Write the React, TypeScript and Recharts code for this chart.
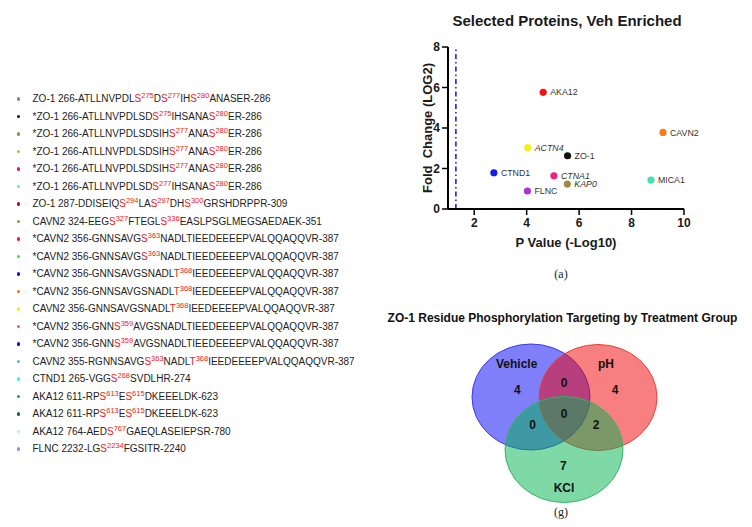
import React from 'react'
import { ScatterChart, Scatter, XAxis, YAxis, ReferenceLine, Cell } from 'recharts'

const SANS = '"Liberation Sans", Arial, sans-serif'
const SERIF = '"Liberation Serif", "Times New Roman", serif'

// peptide list; [X123] = red phospho residue with its position as superscript
const peptideLabels = [
  'ZO-1 266-ATLLNVPDL[S275]D[S277]IH[S280]ANASER-286',
  '*ZO-1 266-ATLLNVPDLSD[S275]IHSANA[S280]ER-286',
  '*ZO-1 266-ATLLNVPDLSDSIH[S277]ANA[S280]ER-286',
  '*ZO-1 266-ATLLNVPDLSDSIH[S277]ANA[S280]ER-286',
  '*ZO-1 266-ATLLNVPDLSDSIH[S277]ANA[S280]ER-286',
  '*ZO-1 266-ATLLNVPDLSD[S277]IHSANA[S280]ER-286',
  'ZO-1 287-DDISEIQ[S294]LA[S297]DH[S300]GRSHDRPPR-309',
  'CAVN2 324-EEG[S327]FTEGL[S336]EASLPSGLMEGSAEDAEK-351',
  '*CAVN2 356-GNNSAVG[S363]NADLTIEEDEEEEPVALQQAQQVR-387',
  '*CAVN2 356-GNNSAVG[S363]NADLTIEEDEEEEPVALQQAQQVR-387',
  '*CAVN2 356-GNNSAVGSNADL[T368]IEEDEEEEPVALQQAQQVR-387',
  '*CAVN2 356-GNNSAVGSNADL[T368]IEEDEEEEPVALQQAQQVR-387',
  'CAVN2 356-GNNSAVGSNADL[T368]IEEDEEEEPVALQQAQQVR-387',
  '*CAVN2 356-GNN[S359]AVGSNADLTIEEDEEEEPVALQQAQQVR-387',
  '*CAVN2 356-GNN[S359]AVGSNADLTIEEDEEEEPVALQQAQQVR-387',
  'CAVN2 355-RGNNSAVG[S363]NADL[T368]IEEDEEEEPVALQQAQQVR-387',
  'CTND1 265-VGG[S268]SVDLHR-274',
  'AKA12 611-RP[S613]E[S615]DKEEELDK-623',
  'AKA12 611-RP[S613]E[S615]DKEEELDK-623',
  'AKA12 764-AED[S767]GAEQLASEIEPSR-780',
  'FLNC 2232-LG[S2234]FGSITR-2240',
]
const peptideColors = [
  '#858585', '#111111', '#9c8a4c', '#d8a060', '#e0187c', '#50f0c0', '#a01414',
  '#a08c50', '#ff1a1a', '#22ee22', '#1414e0', '#f07020', '#f0f000', '#f06420',
  '#1010d0', '#64a8f0', '#40f0f0', '#10a070', '#106848', '#b0f0d8', '#9090f0',
]

// volcano-style scatter
const proteinNames = ['AKA12', 'CAVN2', 'ACTN4', 'ZO-1', 'CTND1', 'CTNA1', 'KAP0', 'MICA1', 'FLNC']
const pValues = [4.63, 9.2, 4.04, 5.56, 2.75, 5.04, 5.55, 8.74, 4.03]
const foldChanges = [5.76, 3.78, 3.03, 2.63, 1.79, 1.64, 1.23, 1.43, 0.89]
const proteinColors = ['#f01414', '#f08020', '#f0f020', '#111111', '#1a1ae8', '#f02080', '#a08c40', '#40e0b0', '#b030e0']
const italicNames = ['ACTN4', 'CTNA1', 'KAP0']
const xTicks = [2, 4, 6, 8, 10]
const yTicks = [0, 2, 4, 6, 8]
const significance = 1.301

// venn
const vennSets = ['Vehicle', 'pH', 'KCl']
const vennRegions = ['Vehicle', 'pH', 'Vehicle & pH', 'All', 'Vehicle & KCl', 'pH & KCl', 'KCl']
const vennCounts = [4, 4, 0, 0, 0, 2, 7]

// layout (pixel units of the venn plot)
const vennSetLayout = [
  { cx: 71, cy: 62, lx: 56.7, ly: 28.5, fill: '#0000f5', stroke: '#3c3cf0' },
  { cx: 138, cy: 62.5, lx: 146, ly: 28.5, fill: '#f00000', stroke: '#f03c3c' },
  { cx: 104, cy: 114.5, lx: 104, ly: 152.3, fill: '#00b450', stroke: '#34b464' },
]
const vennRegionLayout = [
  [57.3, 55], [155, 55], [104, 47.7], [104, 79], [72.7, 89.3], [136, 89.3], [103.3, 131],
]

function Peptide({ label }: { label: string }) {
  const parts: React.ReactNode[] = []
  const re = /\[([A-Z])(\d+)\]/g
  let last = 0
  let m: RegExpExecArray | null
  let k = 0
  while ((m = re.exec(label)) !== null) {
    if (m.index > last) parts.push(<span key={k++}>{label.slice(last, m.index)}</span>)
    parts.push(<span key={k++} style={{ color: '#f02020' }}>{m[1]}</span>)
    parts.push(
      <span key={k++} style={{ color: '#f02020', fontSize: 7.5, position: 'relative', top: -4 }}>{m[2]}</span>
    )
    last = m.index + m[0].length
  }
  if (last < label.length) parts.push(<span key={k++}>{label.slice(last)}</span>)
  return <>{parts}</>
}

function VolcanoChart() {
  const data = proteinNames.map((name, i) => ({ name, x: pValues[i], y: foldChanges[i] }))
  return (
    <ScatterChart width={352} height={290} margin={{ top: 47, right: 68, bottom: 51, left: 0 }}
      style={{ fontFamily: SANS }}>
      <XAxis type="number" dataKey="x" domain={[1, 10]} ticks={xTicks} height={30}
        axisLine={{ stroke: '#000', strokeWidth: 2 }} tickLine={{ stroke: '#000', strokeWidth: 1.5 }}
        tickSize={6} tickMargin={3}
        tick={{ fill: '#1a1a1a', fontSize: 12, fontWeight: 'bold' }}
        label={{ value: 'P Value (-Log10)', position: 'bottom', offset: -1, fill: '#1a1a1a', fontSize: 13, fontWeight: 'bold' }} />
      <YAxis type="number" dataKey="y" domain={[0, 8]} ticks={yTicks} width={48}
        axisLine={{ stroke: '#000', strokeWidth: 2 }} tickLine={{ stroke: '#000', strokeWidth: 1.5 }}
        tickSize={6} tickMargin={2}
        tick={{ fill: '#1a1a1a', fontSize: 12, fontWeight: 'bold' }}
        label={{ value: 'Fold\u00a0 Change (LOG2)', angle: -90, position: 'insideLeft', offset: 27,
          fill: '#1a1a1a', fontSize: 13, fontWeight: 'bold', style: { textAnchor: 'middle' } }} />
      <ReferenceLine x={significance} stroke="#2020f0" strokeWidth={1.6} strokeDasharray="5 3 1.5 3" />
      <Scatter data={data} isAnimationActive={false}
        shape={(p: any) => (
          <g>
            <circle cx={p.cx} cy={p.cy} r={3.6} fill={p.fill} />
            <text x={p.cx + 7} y={p.cy} dy="0.35em" fontSize={8.8} fill="#333"
              fontStyle={italicNames.includes(p.payload.name) ? 'italic' : 'normal'}>
              {p.payload.name}
            </text>
          </g>
        )}>
        {data.map((d, i) => <Cell key={d.name} fill={proteinColors[i]} />)}
      </Scatter>
    </ScatterChart>
  )
}

function VennChart() {
  const sets = vennSets.map((name, i) => ({ name, x: vennSetLayout[i].cx, y: vennSetLayout[i].cy, i }))
  const setLabels = vennSets.map((name, i) => ({ name, x: vennSetLayout[i].lx, y: vennSetLayout[i].ly }))
  const regions = vennRegions.map((name, i) => ({
    name, count: vennCounts[i], x: vennRegionLayout[i][0], y: vennRegionLayout[i][1],
  }))
  const txt = (p: any, value: string | number) => (
    <text x={p.cx} y={p.cy} dy="0.35em" textAnchor="middle" fontSize={12} fontWeight="bold" fill="#111">
      {value}
    </text>
  )
  return (
    <ScatterChart width={210} height={175} margin={{ top: 0, right: 0, bottom: 0, left: 0 }}
      style={{ fontFamily: SANS }}>
      <XAxis type="number" dataKey="x" domain={[0, 210]} hide />
      <YAxis type="number" dataKey="y" domain={[0, 175]} reversed hide />
      <Scatter data={sets} isAnimationActive={false}
        shape={(p: any) => {
          const s = vennSetLayout[p.payload.i]
          return <ellipse cx={p.cx} cy={p.cy} rx={59} ry={53} fill={s.fill} fillOpacity={0.5}
            stroke={s.stroke} strokeWidth={1} />
        }} />
      <Scatter data={setLabels} isAnimationActive={false} shape={(p: any) => txt(p, p.payload.name)} />
      <Scatter data={regions} isAnimationActive={false} shape={(p: any) => txt(p, p.payload.count)} />
    </ScatterChart>
  )
}

export default function App() {
  return (
    <div style={{ position: 'absolute', left: 0, top: 0, width: 752, height: 527, background: '#fff',
      overflow: 'hidden', fontFamily: SANS }}>
      {peptideLabels.map((label, i) => (
        <div key={i} style={{ position: 'absolute', left: 0, top: 99 + i * 17.5 - 7, height: 14,
          lineHeight: '14px', whiteSpace: 'nowrap', fontSize: 10, color: '#222' }}>
          <span style={{ position: 'absolute', left: 16.5, top: 5.2, width: 3.6, height: 3.6,
            borderRadius: '50%', background: peptideColors[i] }} />
          <span style={{ position: 'absolute', left: 32.5, top: 0 }}><Peptide label={label} /></span>
        </div>
      ))}

      <div style={{ position: 'absolute', left: 400, top: 12, width: 334, textAlign: 'center',
        fontSize: 15, fontWeight: 'bold', lineHeight: '18px', color: '#1a1a1a' }}>
        Selected Proteins, Veh Enriched
      </div>
      <div style={{ position: 'absolute', left: 400, top: 0 }}>
        <VolcanoChart />
      </div>
      <div style={{ position: 'absolute', left: 541, top: 266, width: 40, textAlign: 'center',
        fontFamily: SERIF, fontSize: 12, lineHeight: '16px', color: '#222' }}>(a)</div>

      <div style={{ position: 'absolute', left: 380, top: 310, width: 365, textAlign: 'center',
        fontSize: 12, fontWeight: 'bold', lineHeight: '16px', color: '#111', whiteSpace: 'nowrap' }}>
        ZO-1 Residue Phosphorylation Targeting by Treatment Group
      </div>
      <div style={{ position: 'absolute', left: 460, top: 335 }}>
        <VennChart />
      </div>
      <div style={{ position: 'absolute', left: 541, top: 504, width: 40, textAlign: 'center',
        fontFamily: SERIF, fontSize: 12, lineHeight: '16px', color: '#222' }}>(g)</div>
    </div>
  )
}
